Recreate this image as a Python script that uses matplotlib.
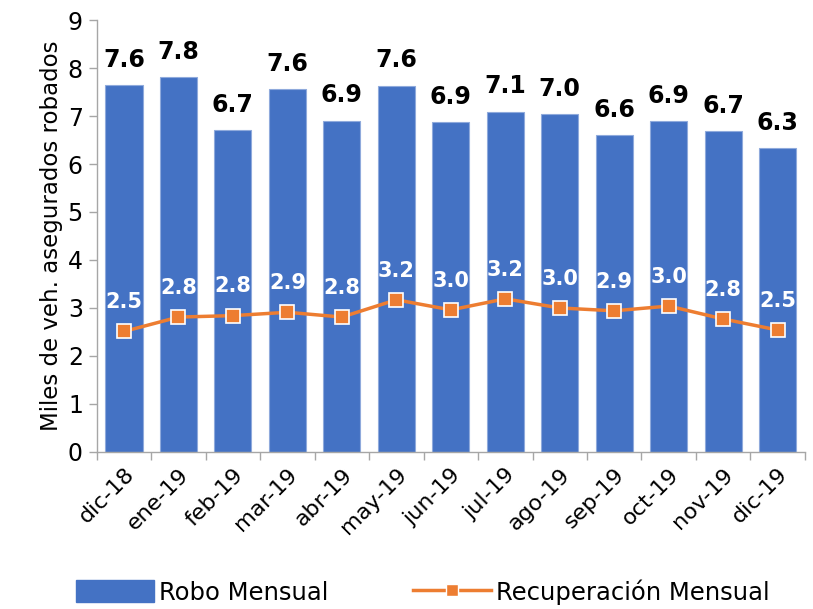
import matplotlib
matplotlib.use("Agg")
import matplotlib.pyplot as plt
import numpy as np
from matplotlib.lines import Line2D
from matplotlib.patches import Patch

categories = ["dic-18", "ene-19", "feb-19", "mar-19", "abr-19", "may-19", "jun-19",
              "jul-19", "ago-19", "sep-19", "oct-19", "nov-19", "dic-19"]
robo = [7.64, 7.81, 6.71, 7.56, 6.90, 7.63, 6.87, 7.09, 7.04, 6.60, 6.89, 6.68, 6.33]
recuperacion = [2.51, 2.81, 2.84, 2.91, 2.81, 3.17, 2.96, 3.19, 3.00, 2.94, 3.04, 2.77, 2.54]
yticks = [0, 1, 2, 3, 4, 5, 6, 7, 8, 9]

plt.rcParams['font.family'] = ['DejaVu Sans']

fig = plt.figure(figsize=(8.13, 6.09), dpi=100)
ax = fig.add_axes([0.119, 0.258, 0.871, 0.709])

blue = "#4472C4"
orange = "#ED7D31"
x = np.arange(len(categories))

ax.bar(x, robo, width=0.68, color=blue, edgecolor="#8FAADC", linewidth=0.8, zorder=2)
ax.plot(x, recuperacion, color=orange, linewidth=2.5, marker="s", markersize=10,
        markerfacecolor=orange, markeredgecolor="white", markeredgewidth=1.2, zorder=3)

for xi, v in zip(x, robo):
    ax.text(xi, v + 0.28, f"{v:.1f}", ha="center", va="bottom", fontsize=17,
            fontweight="bold", color="black", zorder=4)
for xi, v in zip(x, recuperacion):
    ax.text(xi, v + 0.40, f"{v:.1f}", ha="center", va="bottom", fontsize=15,
            fontweight="bold", color="white", zorder=4)

ax.set_xlim(-0.5, len(categories) - 0.5)
ax.set_ylim(0, 9)
ax.set_yticks(yticks)
ax.set_yticklabels([str(t) for t in yticks], fontsize=17)
ax.set_xticks(x)
ax.set_xticklabels(categories, rotation=45, ha="right", rotation_mode="anchor", fontsize=16)
ax.tick_params(axis="x", length=0, pad=9)
ax.set_xticks(np.arange(-0.5, len(categories), 1.0), minor=True)
ax.tick_params(axis="x", which="minor", length=6, color="#A6A6A6", width=1)
ax.tick_params(axis="y", length=6, color="#A6A6A6", width=1, pad=4)

for s in ["top", "right"]:
    ax.spines[s].set_visible(False)
for s in ["left", "bottom"]:
    ax.spines[s].set_color("#A6A6A6")
    ax.spines[s].set_linewidth(1)

ax.set_ylabel("Miles de veh. asegurados robados", fontsize=16.5, labelpad=3)

handles = [Patch(facecolor=blue, edgecolor=blue),
           Line2D([0], [0], color=orange, linewidth=2.5, marker="s", markersize=8,
                  markerfacecolor=orange, markeredgecolor="white")]
fig.legend(handles, ["Robo Mensual", "Recuperación Mensual"], loc="center",
           bbox_to_anchor=(0.52, 0.028), ncol=2, frameon=False, fontsize=17.5,
           handlelength=3.2, handleheight=1.0, columnspacing=3.5, handletextpad=0.2)

fig.savefig("out.png", dpi=100)
